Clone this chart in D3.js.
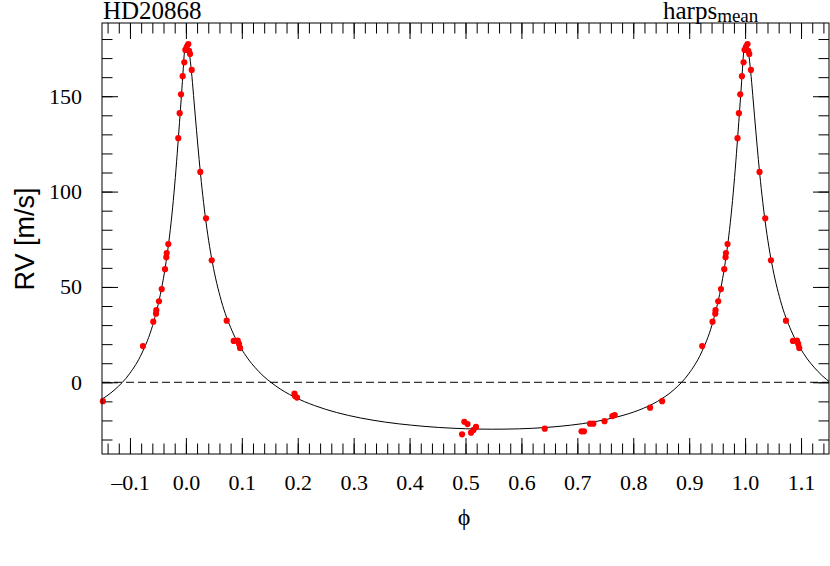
<!DOCTYPE html>
<html>
<head>
<meta charset="utf-8">
<script src="https://cdn.jsdelivr.net/npm/d3@7"></script>
<style>
  html, body { margin: 0; padding: 0; background: #fff; }
  svg { display: block; }
  text { fill: #000; }
</style>
</head>
<body>
<svg id="chart" width="830" height="566"></svg>
<script>
// ---- Data ----
const titleText = "HD20868";
const instrumentText = "harps";
const instrumentSub = "mean";

// Model curve over one orbital cycle (phase, RV in m/s)
const curvePhase = [-0.5, -0.4515, -0.4036, -0.3570, -0.3122, -0.2697, -0.2280, -0.1900, -0.1564, -0.1268,
  -0.1009, -0.0785, -0.0595, -0.0437, -0.0368, -0.0306, -0.0250, -0.0200, -0.0155, -0.0114,
  -0.0077, -0.0047, -0.0036, -0.0025, -0.0013, 0, 0.0017, 0.0035, 0.0053, 0.0071,
  0.0108, 0.0147, 0.0190, 0.0237, 0.0288, 0.0344, 0.0406, 0.0475, 0.0633, 0.0823,
  0.1047, 0.1306, 0.1602, 0.1934, 0.2300, 0.2697, 0.3122, 0.3570, 0.4036, 0.4515];
const curveRV = [-24.35, -24.6, -24.4, -23.7, -22.5, -20.7, -18.1, -14.6, -9.96, -3.76,
  4.44, 15.35, 29.8, 48.9, 60.4, 73.4, 87.8, 103.5, 119.9, 136.2,
  151.5, 164.4, 169.5, 173.5, 176.3, 177.75, 177.9, 176.7, 174.2, 170.6,
  160.3, 147.0, 132.2, 116.8, 101.7, 87.6, 74.5, 62.7, 42.75, 27.16,
  15.03, 5.57, -1.8, -7.63, -12.2, -15.85, -18.7, -20.9, -22.5, -23.67];

// Observed radial velocities, folded phase in [0,1)
const obsPhase = [0.0043, 0.0015, 0.9990, 0.0056, 0.0074, 0.9972, 0.0104, 0.9943, 0.9913, 0.9889,
  0.9864, 0.0258, 0.0360, 0.9686, 0.9657, 0.9650, 0.0462, 0.9627, 0.9568, 0.9519,
  0.9471, 0.9466, 0.9417, 0.0730, 0.9233, 0.0855, 0.0927, 0.0950, 0.0968, 0.8516,
  0.1942, 0.1951, 0.1987, 0.4979, 0.5036, 0.4938, 0.5099, 0.5143, 0.5188, 0.6417,
  0.7075, 0.7119, 0.7227, 0.7286, 0.7486, 0.7626, 0.7668, 0.8300];
const obsRV = [177.4, 175.9, 174.3, 173.8, 172.2, 167.8, 163.8, 160.5, 151.0, 141.1,
  128.0, 110.3, 86.0, 72.5, 67.8, 65.6, 64.0, 59.3, 48.9, 42.5,
  37.8, 36.0, 31.8, 32.3, 19.0, 21.7, 21.8, 20.1, 18.0, -9.9,
  -5.9, -7.2, -8.0, -20.7, -21.9, -27.3, -26.4, -25.0, -23.4, -24.3,
  -25.7, -25.7, -21.7, -21.7, -20.4, -17.7, -17.2, -13.3];

// Axis ticks
const xMajorTicks = [-0.1, 0.0, 0.1, 0.2, 0.3, 0.4, 0.5, 0.6, 0.7, 0.8, 0.9, 1.0, 1.1];
const xTickLabels = ["\u20130.1", "0.0", "0.1", "0.2", "0.3", "0.4", "0.5", "0.6", "0.7", "0.8", "0.9", "1.0", "1.1"];
const xMinorStep = 0.02;
const yMajorTicks = [0, 50, 100, 150];
const yTickLabels = ["0", "50", "100", "150"];
const yMinorStep = 10;
const xDomain = [-0.15, 1.15];
const yDomain = [-37.6, 188.4];

// ---- Layout ----
const W = 830, H = 566;
const L = 102, R = 829, T = 23, B = 454;
const serif = "'Liberation Serif', 'Times New Roman', 'DejaVu Serif', serif";
const sans = "'Liberation Sans', Arial, Helvetica, sans-serif";

const svg = d3.select("#chart");
svg.append("rect").attr("width", W).attr("height", H).attr("fill", "#fff");

const x = d3.scaleLinear().domain(xDomain).range([L, R]);
const y = d3.scaleLinear().domain(yDomain).range([B, T]);

svg.append("defs").append("clipPath").attr("id", "plotclip")
  .append("rect").attr("x", L).attr("y", T).attr("width", R - L).attr("height", B - T);

// minor tick values
const xMinor = d3.range(Math.ceil(xDomain[0] / xMinorStep), Math.floor(xDomain[1] / xMinorStep) + 1)
  .map(i => +(i * xMinorStep).toFixed(3));
const yMinor = d3.range(Math.ceil(yDomain[0] / yMinorStep), Math.floor(yDomain[1] / yMinorStep) + 1)
  .map(i => i * yMinorStep);

const MAJ = 16, MIN = 10.5;
const TICKFONT = 22;

function styleAxis(g) {
  g.select(".domain").remove();
  g.selectAll(".tick line").attr("stroke", "#000").attr("stroke-width", 1);
  g.selectAll("text").attr("font-family", serif).attr("font-size", TICKFONT).attr("fill", "#000");
}

// bottom axis
svg.append("g").attr("transform", `translate(0,${B})`)
  .call(d3.axisBottom(x).tickValues(xMinor).tickSizeInner(-MIN).tickSizeOuter(0).tickFormat(""))
  .call(styleAxis);
svg.append("g").attr("transform", `translate(0,${B})`)
  .call(d3.axisBottom(x).tickValues(xMajorTicks).tickSizeInner(-MAJ).tickSizeOuter(0).tickPadding(20)
    .tickFormat((d, i) => xTickLabels[i]))
  .call(styleAxis);
// top axis
svg.append("g").attr("transform", `translate(0,${T})`)
  .call(d3.axisTop(x).tickValues(xMinor).tickSizeInner(-MIN).tickSizeOuter(0).tickFormat(""))
  .call(styleAxis);
svg.append("g").attr("transform", `translate(0,${T})`)
  .call(d3.axisTop(x).tickValues(xMajorTicks).tickSizeInner(-MAJ).tickSizeOuter(0).tickFormat(""))
  .call(styleAxis);
// left axis
svg.append("g").attr("transform", `translate(${L},0)`)
  .call(d3.axisLeft(y).tickValues(yMinor).tickSizeInner(-MIN).tickSizeOuter(0).tickFormat(""))
  .call(styleAxis);
svg.append("g").attr("transform", `translate(${L},0)`)
  .call(d3.axisLeft(y).tickValues(yMajorTicks).tickSizeInner(-MAJ).tickSizeOuter(0).tickPadding(20)
    .tickFormat((d, i) => yTickLabels[i]))
  .call(styleAxis);
// right axis
svg.append("g").attr("transform", `translate(${R},0)`)
  .call(d3.axisRight(y).tickValues(yMinor).tickSizeInner(-MIN).tickSizeOuter(0).tickFormat(""))
  .call(styleAxis);
svg.append("g").attr("transform", `translate(${R},0)`)
  .call(d3.axisRight(y).tickValues(yMajorTicks).tickSizeInner(-MAJ).tickSizeOuter(0).tickFormat(""))
  .call(styleAxis);

// zero dashed line
svg.append("line")
  .attr("x1", x(xDomain[0])).attr("x2", x(xDomain[1]))
  .attr("y1", y(0)).attr("y2", y(0))
  .attr("stroke", "#000").attr("stroke-width", 1).attr("stroke-dasharray", "8,4");

// model curve repeated over cycles
const curvePts = [];
[-1, 0, 1].forEach(k => {
  curvePhase.forEach((p, i) => {
    const pp = p + k;
    if (pp >= xDomain[0] - 0.1 && pp <= xDomain[1] + 0.1) curvePts.push([pp, curveRV[i]]);
  });
});
curvePts.sort((a, b) => a[0] - b[0]);
const line = d3.line().x(d => x(d[0])).y(d => y(d[1])).curve(d3.curveMonotoneX);
svg.append("path").datum(curvePts)
  .attr("clip-path", "url(#plotclip)")
  .attr("d", line).attr("fill", "none").attr("stroke", "#000").attr("stroke-width", 1);

// observed points repeated
const obsPts = [];
[-1, 0, 1].forEach(k => {
  obsPhase.forEach((p, i) => {
    const pp = p + k;
    if (pp >= xDomain[0] - 0.002 && pp <= xDomain[1] + 0.002) obsPts.push([pp, obsRV[i]]);
  });
});
svg.append("g").selectAll("circle").data(obsPts).join("circle")
  .attr("cx", d => x(d[0])).attr("cy", d => y(d[1])).attr("r", 3.1)
  .attr("fill", "#ff0000");

// frame
svg.append("rect").attr("x", L).attr("y", T).attr("width", R - L).attr("height", B - T)
  .attr("fill", "none").attr("stroke", "#000").attr("stroke-width", 1);

// titles
svg.append("text").attr("x", 103).attr("y", 18.5)
  .attr("font-family", serif).attr("font-size", 25).text(titleText);
const inst = svg.append("text").attr("x", 663).attr("y", 18.5)
  .attr("font-family", serif).attr("font-size", 25);
inst.append("tspan").text(instrumentText);
inst.append("tspan").attr("font-size", 19).attr("dy", 3).text(instrumentSub);

// axis labels
svg.append("text").attr("x", 464).attr("y", 525).attr("text-anchor", "middle")
  .attr("font-family", serif).attr("font-size", 24).text("\u03D5");
svg.append("text").attr("transform", "translate(34,239) rotate(-90)").attr("text-anchor", "middle")
  .attr("font-family", sans).attr("font-size", 27).text("RV [m/s]");
</script>
</body>
</html>
